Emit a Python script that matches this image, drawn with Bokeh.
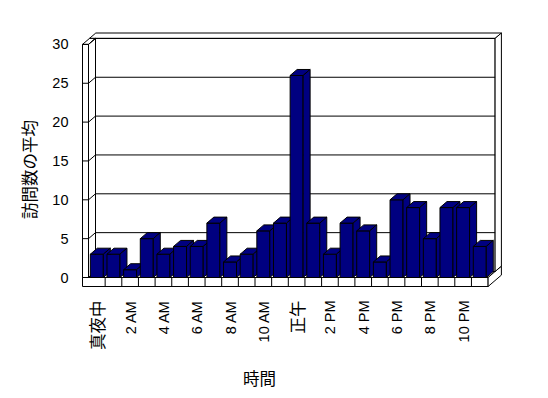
import numpy as np
from bokeh.plotting import figure
from bokeh.models import Range1d
from bokeh.core.properties import value
from bokeh.embed import file_html
from bokeh.resources import INLINE

# ---------------- data ----------------
hours = ["真夜中", "1 AM", "2 AM", "3 AM", "4 AM", "5 AM", "6 AM", "7 AM",
         "8 AM", "9 AM", "10 AM", "11 AM", "正午", "1 PM", "2 PM", "3 PM",
         "4 PM", "5 PM", "6 PM", "7 PM", "8 PM", "9 PM", "10 PM", "11 PM"]
visits = [3, 3, 1, 5, 3, 4, 4, 7, 2, 3, 6, 7, 26, 7, 3, 7, 6, 2, 10, 9, 5, 9, 9, 4]
tick_labels = ["真夜中", "2 AM", "4 AM", "6 AM", "8 AM", "10 AM",
               "正午", "2 PM", "4 PM", "6 PM", "8 PM", "10 PM"]
y_ticks = [0, 5, 10, 15, 20, 25, 30]
y_title = "訪問数の平均"
x_title = "時間"

# ---------------- layout (pixel geometry -> data scales) ----------------
W, H = 548, 398
X0PX, XS = 88.0, 16.65      # px of category 0 start, px per category
Y0PX, YS = 277.0, 7.77      # px of value 0 (from top), px per unit
dzx = 7.0 / XS              # depth unit offset in data coords
dzy = 6.0 / YS
N = len(visits)
YMAX = 30
wall_t = 6.0 / XS           # left wall thickness
floor_t = 9.0 / YS          # floor slab thickness
back_z = 1.9

p = figure(width=W, height=H, output_backend="svg", toolbar_location=None,
           x_range=Range1d(-X0PX / XS, (W - X0PX) / XS),
           y_range=Range1d(-(H - Y0PX) / YS, Y0PX / YS),
           min_border=0, x_axis_location=None, y_axis_location=None)
p.grid.visible = False
p.outline_line_color = None
p.background_fill_color = "white"
p.border_fill_color = "white"


def P(x, y, z):
    return (x + z * dzx, y + z * dzy)


def box(x0, x1, y0, y1, z0, z1):
    faces = [
        [P(x0, y0, z0), P(x1, y0, z0), P(x1, y1, z0), P(x0, y1, z0)],
        [P(x0, y1, z0), P(x1, y1, z0), P(x1, y1, z1), P(x0, y1, z1)],
        [P(x1, y0, z0), P(x1, y0, z1), P(x1, y1, z1), P(x1, y1, z0)],
    ]
    xs = [[pt[0] for pt in f] for f in faces]
    ys = [[pt[1] for pt in f] for f in faces]
    return xs, ys


def draw_box(b, fill):
    xs, ys = b
    p.patches(xs, ys, fill_color=fill, line_color="black", line_width=1)


# floor slab
draw_box(box(-wall_t, N, -floor_t, 0, 0, back_z), "white")
# back wall
draw_box(box(-wall_t, N, 0, YMAX, 1, back_z), "white")
# left wall
draw_box(box(-wall_t, 0, 0, YMAX, 0, 1), "white")

# gridlines across left wall and back wall
gx, gy = [], []
for t in y_ticks:
    pts = [P(-wall_t, t, 0), P(0, t, 0), P(0, t, 1), P(N, t, 1)]
    gx.append([q[0] for q in pts])
    gy.append([q[1] for q in pts])
p.multi_line(gx, gy, line_color="black", line_width=1)

# category ticks on floor front face
kx = list(range(1, N))
p.segment(x0=kx, y0=[-floor_t] * len(kx), x1=kx, y1=[0] * len(kx),
          line_color="black", line_width=1)

# bars
half = 0.39
for i, v in enumerate(visits):
    draw_box(box(i + 0.5 - half, i + 0.5 + half, 0, v, 0, 1), "#000080")

# y tick labels
p.text(x=[(68 - X0PX) / XS] * len(y_ticks), y=y_ticks, text=[str(t) for t in y_ticks],
       text_align="right", text_baseline="middle", text_font_size="14.5px",
       text_font=value("Liberation Sans"), text_color="black")

# category labels (every other hour), Latin and CJK in their own fonts
lab_y = (Y0PX - 300) / YS


def snap(xd):
    # put the label centre on a whole pixel
    return (round(X0PX + xd * XS) - X0PX) / XS


lat_x, lat_t, cjk_x, cjk_t = [], [], [], []
for k, lab in enumerate(tick_labels):
    xx = snap(2 * k + 0.5)
    if lab.isascii():
        lat_x.append(xx); lat_t.append(lab)
    else:
        cjk_x.append(xx); cjk_t.append(lab)
p.text(x=lat_x, y=[lab_y] * len(lat_x), text=lat_t, angle=np.pi / 2,
       text_align="right", text_baseline="middle", text_font_size="14.5px",
       text_font=value("Liberation Sans"), text_color="black")
p.text(x=cjk_x, y=[lab_y] * len(cjk_x), text=cjk_t, angle=np.pi / 2,
       text_align="right", text_baseline="middle", text_font_size="16.5px",
       text_font=value("Noto Sans CJK JP"), text_color="black")

# axis titles
p.text(x=[(28 - X0PX) / XS], y=[(Y0PX - 169) / YS], text=[y_title], angle=np.pi / 2,
       text_align="center", text_baseline="middle", text_font_size="16.5px",
       text_font=value("Noto Sans CJK JP"), text_color="black")
p.text(x=[(259 - X0PX) / XS], y=[(Y0PX - 377) / YS], text=[x_title],
       text_align="center", text_baseline="middle", text_font_size="16.5px",
       text_font=value("Noto Sans CJK JP"), text_color="black")

open("out.html", "w").write(file_html(p, INLINE))
